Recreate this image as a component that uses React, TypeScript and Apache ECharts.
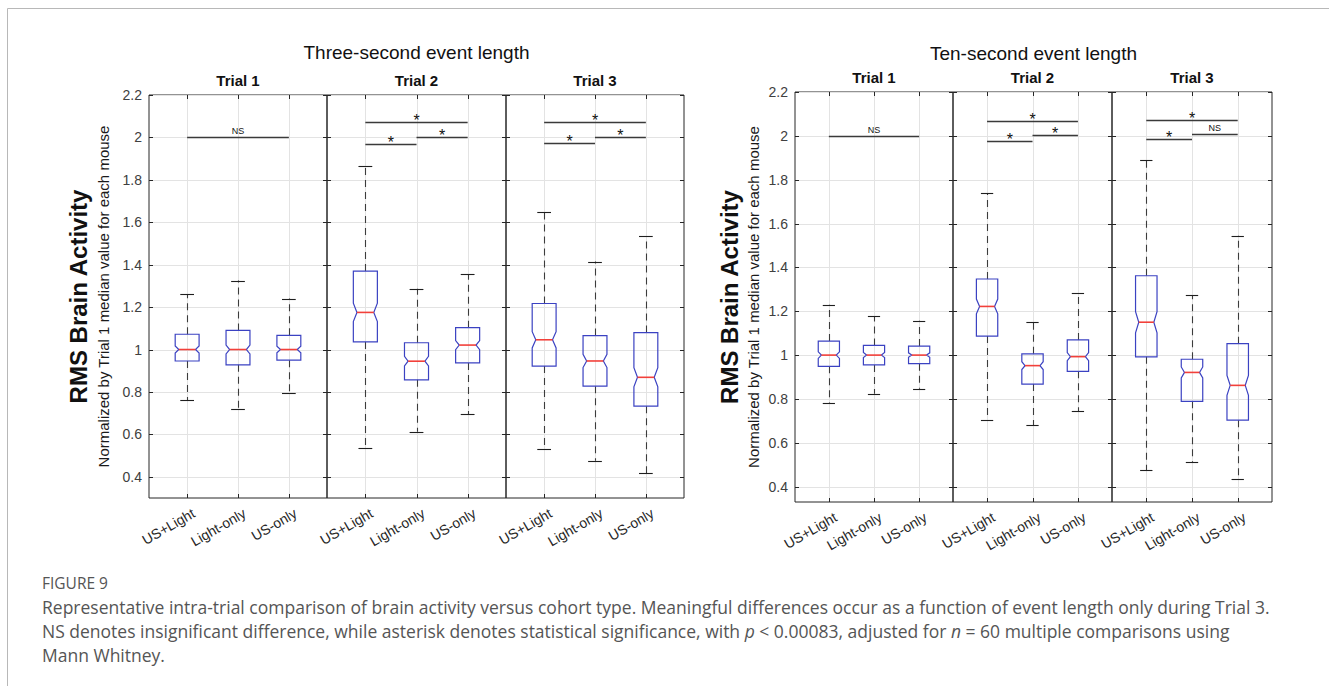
import React, { useEffect, useRef } from "react";
import * as echarts from "echarts";

// ---- data ----
const cohorts = ["US+Light", "Light-only", "US-only"];
const trialNames = ["Trial 1", "Trial 2", "Trial 3"];
const yTickValues = [0.4, 0.6, 0.8, 1.0, 1.2, 1.4, 1.6, 1.8, 2.0, 2.2];
const yTickLabels = ["0.4", "0.6", "0.8", "1", "1.2", "1.4", "1.6", "1.8", "2", "2.2"];

// box summaries per cohort: [lower whisker, Q1, median, Q3, upper whisker]
const threeSecTrial1 = [
  [0.76, 0.946, 1.0, 1.072, 1.26],
  [0.72, 0.928, 1.0, 1.09, 1.325],
  [0.795, 0.95, 1.0, 1.067, 1.24],
];
const threeSecTrial2 = [
  [0.537, 1.036, 1.175, 1.37, 1.865],
  [0.612, 0.857, 0.945, 1.032, 1.287],
  [0.694, 0.937, 1.021, 1.103, 1.355],
];
const threeSecTrial3 = [
  [0.532, 0.922, 1.046, 1.217, 1.648],
  [0.476, 0.827, 0.946, 1.066, 1.415],
  [0.417, 0.733, 0.869, 1.08, 1.535],
];
const tenSecTrial1 = [
  [0.783, 0.949, 1.0, 1.064, 1.23],
  [0.824, 0.955, 1.0, 1.044, 1.178],
  [0.846, 0.961, 1.0, 1.041, 1.157],
];
const tenSecTrial2 = [
  [0.705, 1.087, 1.222, 1.347, 1.738],
  [0.68, 0.868, 0.952, 1.006, 1.152],
  [0.745, 0.926, 0.993, 1.069, 1.283],
];
const tenSecTrial3 = [
  [0.475, 0.992, 1.15, 1.362, 1.89],
  [0.513, 0.789, 0.921, 0.981, 1.272],
  [0.436, 0.703, 0.862, 1.052, 1.545],
];

// significance brackets: [from cohort, to cohort, height]
const threeSecBrackets = [
  [[1, 3, 2.0]],
  [[1, 2, 1.97], [2, 3, 2.0], [1, 3, 2.075]],
  [[1, 2, 1.972], [2, 3, 2.003], [1, 3, 2.074]],
];
const threeSecMarks = [["NS"], ["*", "*", "*"], ["*", "*", "*"]];
const tenSecBrackets = [
  [[1, 3, 2.0]],
  [[1, 2, 1.978], [2, 3, 2.004], [1, 3, 2.068]],
  [[1, 2, 1.984], [2, 3, 2.01], [1, 3, 2.072]],
];
const tenSecMarks = [["NS"], ["*", "*", "*"], ["*", "NS", "*"]];

// observations per cohort, used for the notch half-height 1.57*IQR/sqrt(n)
const GROUP_SIZE = 146;

// ---- layout & style ----
const W = 1329;
const H = 686;
const FONT = "'Liberation Sans', Arial, Helvetica, sans-serif";
const CAPTION_FONT = "'Open Sans', 'Noto Sans', sans-serif";
const BOX_WIDTH = 0.47;
const NOTCH_DEPTH = 0.7;
const CAP_WIDTH = 0.27;
const AXIS_COLOR = "#262626";
const GRID_COLOR = "#e3e3e3";

const panels = [
  {
    title: "Three-second event length",
    edges: [149, 327, 506, 684],
    top: 95,
    bottom: 498,
    yMin: 0.3,
    titleY: 52,
    trialY: 80,
    labelX: 78,
    subLabelX: 103,
    boxes: [threeSecTrial1, threeSecTrial2, threeSecTrial3],
    brackets: threeSecBrackets,
    marks: threeSecMarks,
  },
  {
    title: "Ten-second event length",
    edges: [795, 953, 1112, 1272],
    top: 92,
    bottom: 502,
    yMin: 0.33,
    titleY: 53,
    trialY: 77,
    labelX: 729,
    subLabelX: 753,
    boxes: [tenSecTrial1, tenSecTrial2, tenSecTrial3],
    brackets: tenSecBrackets,
    marks: tenSecMarks,
  },
];

const crisp = (v: number) => Math.round(v) + 0.5;

const centered = {
  align: "center",
  verticalAlign: "middle",
  textAlign: "center",
  textVerticalAlign: "middle",
};

// axes frame: grid lines, inward tick marks on all four sides, rotated cohort labels
const renderFrame = (params: any, api: any) => {
  const cs = params.coordSys;
  const children: any[] = [];
  const tick = 4;
  yTickValues.forEach((v) => {
    const py = crisp(api.coord([1, v])[1]);
    children.push({
      type: "line",
      shape: { x1: cs.x, y1: py, x2: cs.x + cs.width, y2: py },
      style: { stroke: GRID_COLOR, lineWidth: 1 },
    });
  });
  [1, 2, 3].forEach((k) => {
    const px = crisp(api.coord([k, 1])[0]);
    children.push({
      type: "line",
      shape: { x1: px, y1: cs.y, x2: px, y2: cs.y + cs.height },
      style: { stroke: GRID_COLOR, lineWidth: 1 },
    });
    children.push({
      type: "line",
      shape: { x1: px, y1: cs.y, x2: px, y2: cs.y + tick },
      style: { stroke: AXIS_COLOR, lineWidth: 1 },
    });
    children.push({
      type: "line",
      shape: { x1: px, y1: cs.y + cs.height - tick, x2: px, y2: cs.y + cs.height },
      style: { stroke: AXIS_COLOR, lineWidth: 1 },
    });
    children.push({
      type: "text",
      x: px + 6,
      y: cs.y + cs.height + 14,
      rotation: Math.PI / 6,
      style: {
        text: cohorts[k - 1],
        font: `14px ${FONT}`,
        fill: AXIS_COLOR,
        align: "right",
        verticalAlign: "middle",
        textAlign: "right",
        textVerticalAlign: "middle",
      },
    });
  });
  yTickValues.forEach((v) => {
    const py = crisp(api.coord([1, v])[1]);
    children.push({
      type: "line",
      shape: { x1: cs.x, y1: py, x2: cs.x + tick, y2: py },
      style: { stroke: AXIS_COLOR, lineWidth: 1 },
    });
    children.push({
      type: "line",
      shape: { x1: cs.x + cs.width - tick, y1: py, x2: cs.x + cs.width, y2: py },
      style: { stroke: AXIS_COLOR, lineWidth: 1 },
    });
  });
  return { type: "group", children };
};

// notched box with dashed whiskers
const renderBox = (params: any, api: any) => {
  const x = api.value(0);
  const lo = api.value(1);
  const q1 = api.value(2);
  const med = api.value(3);
  const q3 = api.value(4);
  const hi = api.value(5);
  const half = BOX_WIDTH / 2;
  const inner = half * NOTCH_DEPTH;
  const cap = CAP_WIDTH / 2;
  const notch = (1.57 * (q3 - q1)) / Math.sqrt(GROUP_SIZE);
  const c = (a: number, b: number) => api.coord([a, b]);
  const cx = crisp(c(x, 1)[0]);
  const yHi = c(x, hi)[1];
  const yLo = c(x, lo)[1];
  const yQ1 = c(x, q1)[1];
  const yQ3 = c(x, q3)[1];
  const box = [
    c(x - half, q1),
    c(x - half, med - notch),
    c(x - inner, med),
    c(x - half, med + notch),
    c(x - half, q3),
    c(x + half, q3),
    c(x + half, med + notch),
    c(x + inner, med),
    c(x + half, med - notch),
    c(x + half, q1),
  ];
  const mL = c(x - inner, med);
  const mR = c(x + inner, med);
  const whisker = { stroke: "#3c3c3c", lineWidth: 1.1, lineDash: [7, 5] };
  const capStyle = { stroke: "#1e1e1e", lineWidth: 1.1 };
  return {
    type: "group",
    children: [
      { type: "line", shape: { x1: cx, y1: yQ3, x2: cx, y2: yHi }, style: whisker },
      { type: "line", shape: { x1: cx, y1: yQ1, x2: cx, y2: yLo }, style: whisker },
      {
        type: "line",
        shape: { x1: c(x - cap, hi)[0], y1: crisp(yHi), x2: c(x + cap, hi)[0], y2: crisp(yHi) },
        style: capStyle,
      },
      {
        type: "line",
        shape: { x1: c(x - cap, lo)[0], y1: crisp(yLo), x2: c(x + cap, lo)[0], y2: crisp(yLo) },
        style: capStyle,
      },
      {
        type: "polygon",
        shape: { points: box },
        style: { fill: "none", stroke: "#3b42c2", lineWidth: 1.2 },
      },
      {
        type: "line",
        shape: { x1: mL[0], y1: mL[1], x2: mR[0], y2: mR[1] },
        style: { stroke: "#f2403a", lineWidth: 1.6 },
      },
    ],
  };
};

// significance bracket with its mark
const makeBracketRenderer = (marks: string[]) => (params: any, api: any) => {
  const a = api.coord([api.value(0), api.value(2)]);
  const b = api.coord([api.value(1), api.value(2)]);
  const y = crisp(a[1]);
  const mark = marks[params.dataIndex];
  const star = mark === "*";
  return {
    type: "group",
    children: [
      {
        type: "line",
        shape: { x1: a[0], y1: y, x2: b[0], y2: y },
        style: { stroke: "#3a3a3a", lineWidth: 1.3 },
      },
      {
        type: "text",
        x: (a[0] + b[0]) / 2,
        y: star ? y - 2 : y - 7,
        style: {
          text: mark,
          fill: "#111",
          font: star ? `16px ${FONT}` : `9px ${FONT}`,
          ...centered,
        },
      },
    ],
  };
};

const buildOption = () => {
  const grid: any[] = [];
  const xAxis: any[] = [];
  const yAxis: any[] = [];
  const series: any[] = [];
  const graphic: any[] = [];

  panels.forEach((p, pi) => {
    for (let t = 0; t < 3; t++) {
      const gi = pi * 3 + t;
      const left = p.edges[t];
      const width = p.edges[t + 1] - p.edges[t];
      grid.push({
        left,
        width,
        top: p.top,
        height: p.bottom - p.top,
        show: true,
        borderColor: AXIS_COLOR,
        borderWidth: 1,
        backgroundColor: "transparent",
      });
      xAxis.push({
        type: "value",
        gridIndex: gi,
        min: 0.25,
        max: 3.75,
        axisLine: { show: false },
        axisTick: { show: false },
        splitLine: { show: false },
        axisLabel: { show: false },
      });
      yAxis.push({
        type: "value",
        gridIndex: gi,
        min: p.yMin,
        max: 2.2,
        axisLine: { show: false },
        axisTick: { show: false },
        splitLine: { show: false },
        axisLabel: {
          show: t === 0,
          customValues: yTickValues,
          formatter: (v: number) => {
            let best = 0;
            yTickValues.forEach((tv, i) => {
              if (Math.abs(tv - v) < Math.abs(yTickValues[best] - v)) best = i;
            });
            return yTickLabels[best];
          },
          margin: 7,
          fontSize: 14,
          fontFamily: FONT,
          color: "#404040",
        },
      });
      series.push({
        type: "custom",
        xAxisIndex: gi,
        yAxisIndex: gi,
        z: 1,
        silent: true,
        renderItem: renderFrame,
        data: [[2, 1]],
      });
      series.push({
        type: "custom",
        name: `${p.title} ${trialNames[t]}`,
        xAxisIndex: gi,
        yAxisIndex: gi,
        z: 3,
        renderItem: renderBox,
        encode: { x: 0, y: [1, 2, 3, 4, 5] },
        data: p.boxes[t].map((b, i) => [i + 1, ...b]),
      });
      series.push({
        type: "custom",
        xAxisIndex: gi,
        yAxisIndex: gi,
        z: 4,
        silent: true,
        renderItem: makeBracketRenderer(p.marks[t]),
        encode: { x: [0, 1], y: 2 },
        data: p.brackets[t],
      });
      graphic.push({
        type: "text",
        x: left + width / 2,
        y: p.trialY,
        style: { text: trialNames[t], font: `bold 15px ${FONT}`, fill: "#111", ...centered },
      });
    }
    const cx = (p.edges[0] + p.edges[3]) / 2;
    const cy = (p.top + p.bottom) / 2;
    graphic.push({
      type: "text",
      x: cx,
      y: p.titleY,
      style: { text: p.title, font: `19px ${FONT}`, fill: "#111", ...centered },
    });
    graphic.push({
      type: "text",
      x: p.labelX,
      y: cy,
      rotation: Math.PI / 2,
      style: { text: "RMS Brain Activity", font: `bold 24px ${FONT}`, fill: "#111", ...centered },
    });
    graphic.push({
      type: "text",
      x: p.subLabelX,
      y: cy,
      rotation: Math.PI / 2,
      style: {
        text: "Normalized by Trial 1 median value for each mouse",
        font: `15px ${FONT}`,
        fill: "#1a1a1a",
        ...centered,
      },
    });
  });

  // figure frame
  graphic.push({
    type: "polyline",
    shape: { points: [[7.5, H], [7.5, 8.5], [W, 8.5]] },
    style: { stroke: "#b8b8b8", lineWidth: 1, fill: "none" },
  });

  // caption
  const capBase = {
    fill: "#555",
    font: `17.5px ${CAPTION_FONT}`,
    align: "left",
    verticalAlign: "middle",
    textAlign: "left",
    textVerticalAlign: "middle",
  };
  const italic = { fontStyle: "italic", fontSize: 17.5, fontFamily: CAPTION_FONT, fill: "#555" };
  graphic.push({
    type: "text",
    x: 42,
    y: 583,
    style: { ...capBase, text: "FIGURE 9", font: `15.5px ${CAPTION_FONT}` },
  });
  graphic.push({
    type: "text",
    x: 42,
    y: 607,
    style: {
      ...capBase,
      text:
        "Representative intra-trial comparison of brain activity versus cohort type. Meaningful differences occur as a function of event length only during Trial 3.",
    },
  });
  graphic.push({
    type: "text",
    x: 42,
    y: 631,
    style: {
      ...capBase,
      text:
        "NS denotes insignificant difference, while asterisk denotes statistical significance, with {i|p} < 0.00083, adjusted for {i|n} = 60 multiple comparisons using",
      rich: { i: italic },
    },
  });
  graphic.push({
    type: "text",
    x: 42,
    y: 655,
    style: { ...capBase, text: "Mann Whitney." },
  });

  return {
    animation: false,
    backgroundColor: "#ffffff",
    grid,
    xAxis,
    yAxis,
    series,
    graphic,
  };
};

export default function App() {
  const ref = useRef<HTMLDivElement>(null);
  useEffect(() => {
    if (!ref.current) return;
    const chart = echarts.init(ref.current, null, { renderer: "svg" });
    chart.setOption(buildOption());
    return () => chart.dispose();
  }, []);
  return (
    <div
      ref={ref}
      style={{ position: "absolute", left: 0, top: 0, width: W, height: H, background: "#fff" }}
    />
  );
}
